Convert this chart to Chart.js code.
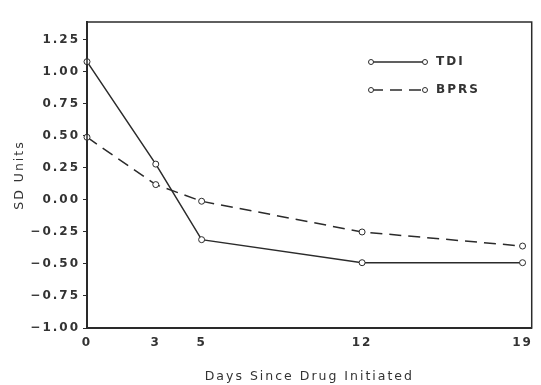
<!DOCTYPE html>
<html>
<head>
<meta charset="utf-8">
<script src="https://cdn.jsdelivr.net/npm/chart.js@4/dist/chart.umd.min.js"></script>
<style>
  html, body { margin: 0; padding: 0; background: #fff; }
  canvas { display: block; }
</style>
</head>
<body>
<canvas id="sdChart" width="541" height="385"></canvas>
<script>
const days = [0, 3, 5, 12, 19];
const tdiValues = [1.08, 0.28, -0.31, -0.49, -0.49];
const bprsValues = [0.49, 0.12, -0.01, -0.25, -0.36];
const yTickValues = [-1.00, -0.75, -0.50, -0.25, 0.00, 0.25, 0.50, 0.75, 1.00, 1.25];
const xTickValues = [0, 3, 5, 12, 19];

const ink = '#2b2b2b';
const textInk = '#333';
const fontFamily = '"DejaVu Sans", "Liberation Sans", sans-serif';
const bprsDash = [12, 7];

const toPoints = (ys) => days.map((d, i) => ({ x: d, y: ys[i] }));

// wide, spaced lettering for all the chart text
const spacing = {
  id: 'spacing',
  beforeUpdate(chart) { chart.ctx.letterSpacing = '2px'; },
  beforeDraw(chart) { chart.ctx.letterSpacing = '2px'; }
};

// thin frame round the plot plus the hand-placed key at top right
const frameAndKey = {
  id: 'frameAndKey',
  afterDraw(chart) {
    const { ctx, chartArea: a } = chart;
    ctx.save();
    ctx.strokeStyle = ink;
    ctx.lineWidth = 1.5;
    ctx.strokeRect(a.left, a.top, a.right - a.left, a.bottom - a.top);

    const rows = [
      { label: 'TDI', y: 62, dash: [] },
      { label: 'BPRS', y: 90, dash: bprsDash }
    ];
    const x0 = 371, x1 = 425;
    rows.forEach(r => {
      ctx.setLineDash(r.dash);
      ctx.lineWidth = 1.5;
      ctx.beginPath();
      ctx.moveTo(x0, r.y);
      ctx.lineTo(x1, r.y);
      ctx.stroke();
      ctx.setLineDash([]);
      ctx.lineWidth = 1;
      [x0, x1].forEach(x => {
        ctx.beginPath();
        ctx.arc(x, r.y, 2.5, 0, Math.PI * 2);
        ctx.fillStyle = '#fff';
        ctx.fill();
        ctx.stroke();
      });
      ctx.fillStyle = textInk;
      ctx.font = 'bold 12px ' + fontFamily;
      ctx.textBaseline = 'middle';
      ctx.textAlign = 'left';
      ctx.fillText(r.label, 436, r.y);
    });
    ctx.restore();
  }
};

new Chart(document.getElementById('sdChart').getContext('2d'), {
  type: 'line',
  data: {
    datasets: [
      {
        label: 'TDI',
        data: toPoints(tdiValues),
        borderColor: ink,
        borderWidth: 1.5,
        pointRadius: 3,
        pointBorderWidth: 1,
        pointBackgroundColor: '#fff',
        pointBorderColor: ink,
        clip: false
      },
      {
        label: 'BPRS',
        data: toPoints(bprsValues),
        borderColor: ink,
        borderWidth: 1.5,
        borderDash: bprsDash,
        pointRadius: 3,
        pointBorderWidth: 1,
        pointBackgroundColor: '#fff',
        pointBorderColor: ink,
        clip: false
      }
    ]
  },
  options: {
    responsive: false,
    animation: false,
    layout: { padding: { top: 22, right: 4, left: 0, bottom: 0 } },
    plugins: {
      legend: { display: false },
      tooltip: { enabled: false }
    },
    scales: {
      x: {
        type: 'linear',
        min: 0,
        max: 19.4,
        afterBuildTicks(scale) { scale.ticks = xTickValues.map(v => ({ value: v })); },
        afterFit(scale) { scale.height = 57; },
        grid: { display: false, drawTicks: false },
        border: { display: true, color: ink, width: 2 },
        ticks: {
          color: textInk,
          padding: 8,
          maxRotation: 0,
          autoSkip: false,
          font: { family: fontFamily, size: 12, weight: 'bold' },
          callback: v => String(v)
        },
        title: {
          display: true,
          text: 'Days Since Drug Initiated',
          color: textInk,
          padding: { top: 0, bottom: 1 },
          font: { family: fontFamily, size: 12.5 }
        }
      },
      y: {
        min: -1,
        max: 1.39,
        afterBuildTicks(scale) { scale.ticks = yTickValues.map(v => ({ value: v })); },
        afterFit(scale) { scale.width = 87; },
        grid: { drawOnChartArea: false, drawTicks: true, tickLength: 4, tickColor: ink },
        border: { display: true, color: ink, width: 2 },
        ticks: {
          color: textInk,
          padding: 3,
          autoSkip: false,
          font: { family: fontFamily, size: 12, weight: 'bold' },
          callback: v => (v < 0 ? '\u2212' + Math.abs(v).toFixed(2) : v.toFixed(2))
        },
        title: {
          display: true,
          text: 'SD Units',
          color: textInk,
          padding: { top: 12, bottom: 0 },
          font: { family: fontFamily, size: 12.5 }
        }
      }
    }
  },
  plugins: [spacing, frameAndKey]
});
</script>
</body>
</html>
